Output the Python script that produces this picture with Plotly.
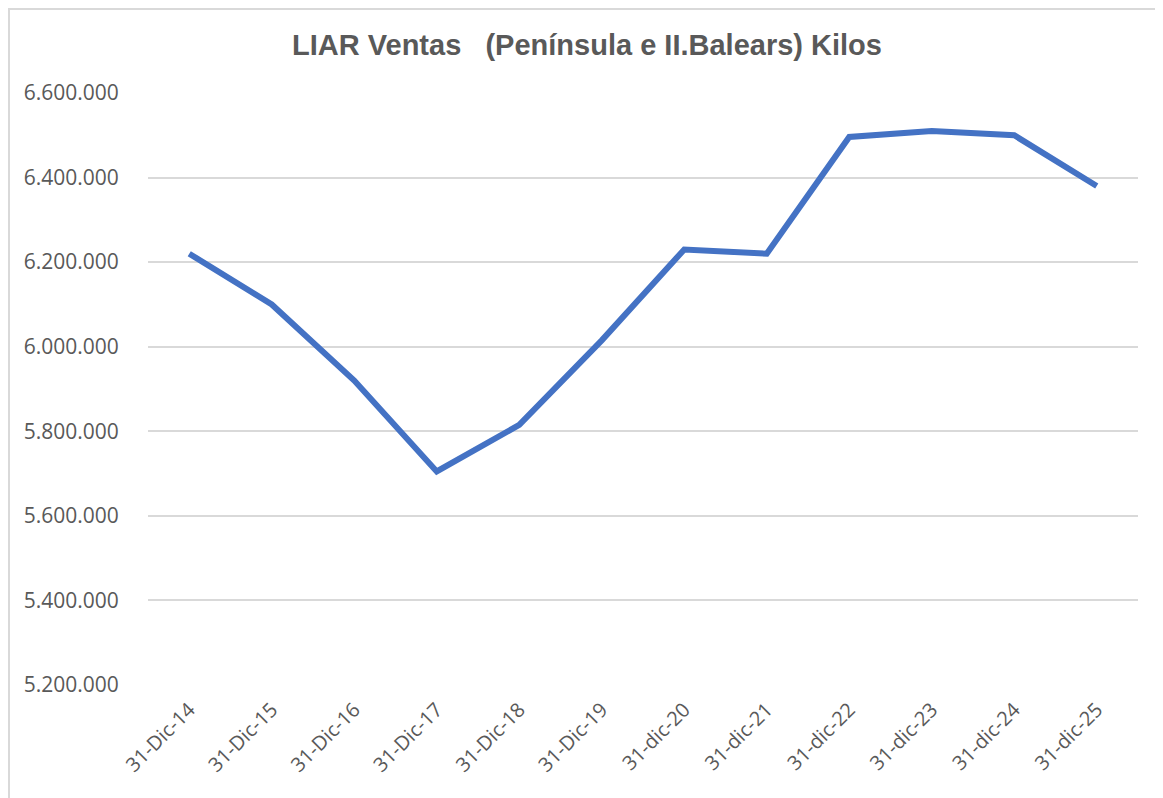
import plotly.graph_objects as go

categories = ["31-Dic-14", "31-Dic-15", "31-Dic-16", "31-Dic-17", "31-Dic-18", "31-Dic-19",
              "31-dic-20", "31-dic-21", "31-dic-22", "31-dic-23", "31-dic-24", "31-dic-25"]
ventas_kilos = [6220000, 6100000, 5920000, 5705000, 5815000, 6015000,
                6230000, 6220000, 6496000, 6510000, 6500000, 6380000]
y_ticks = [5200000, 5400000, 5600000, 5800000, 6000000, 6200000, 6400000, 6600000]

title_text = "LIAR Ventas \u00a0 (Península e II.Balears) Kilos"

fig = go.Figure()
fig.add_trace(go.Scatter(
    x=categories, y=ventas_kilos, mode="lines",
    line=dict(color="#4472C4", width=6, shape="linear"),
    showlegend=False, hoverinfo="x+y",
))

# page body has an 8px offset; target screen positions compensated
OFF = 8
W, H = 1163, 798
ml = 148 - OFF
mt = 93 - OFF
mr = W - (1138 - OFF)
mb = H - (685 - OFF)
pw, ph = W - ml - mr, H - mt - mb

def fig_px_to_paper_x(fx):
    return (fx - ml) / pw

def fig_px_to_paper_y(fy):
    return (H - mb - fy) / ph

fig.update_layout(
    width=W, height=H,
    margin=dict(l=ml, r=mr, t=mt, b=mb),
    paper_bgcolor="white", plot_bgcolor="white",
    separators=",.",
    title=dict(text="<b>" + title_text + "</b>", x=(587 - OFF) / W, xanchor="center",
               y=1 - (45 - OFF) / H, yanchor="middle",
               font=dict(family="Liberation Sans, Arial, sans-serif", size=29, color="#595959")),
    font=dict(family="Open Sans, sans-serif", size=21, color="#595959"),
    xaxis=dict(type="category", range=[-0.5, len(categories) - 0.5], tickangle=-45,
               showgrid=False, zeroline=False, showline=False,
               ticks="outside", ticklen=4, tickcolor="rgba(0,0,0,0)",
               tickfont=dict(family="Open Sans, sans-serif", size=20, color="#595959")),
    yaxis=dict(range=[y_ticks[0], y_ticks[-1]], tickvals=y_ticks, tickformat=",d",
               showgrid=True, gridcolor="#D9D9D9", gridwidth=1.5,
               zeroline=False, showline=False,
               ticks="outside", ticklen=24, tickcolor="rgba(0,0,0,0)",
               tickfont=dict(family="Open Sans, sans-serif", size=21, color="#595959")),
    shapes=[dict(type="rect", xref="paper", yref="paper",
                 x0=fig_px_to_paper_x(1), x1=fig_px_to_paper_x(W + 20),
                 y0=fig_px_to_paper_y(H + 20), y1=fig_px_to_paper_y(1),
                 line=dict(color="#D9D9D9", width=2), fillcolor="rgba(0,0,0,0)", layer="below")],
)

fig.write_html("out.html")
